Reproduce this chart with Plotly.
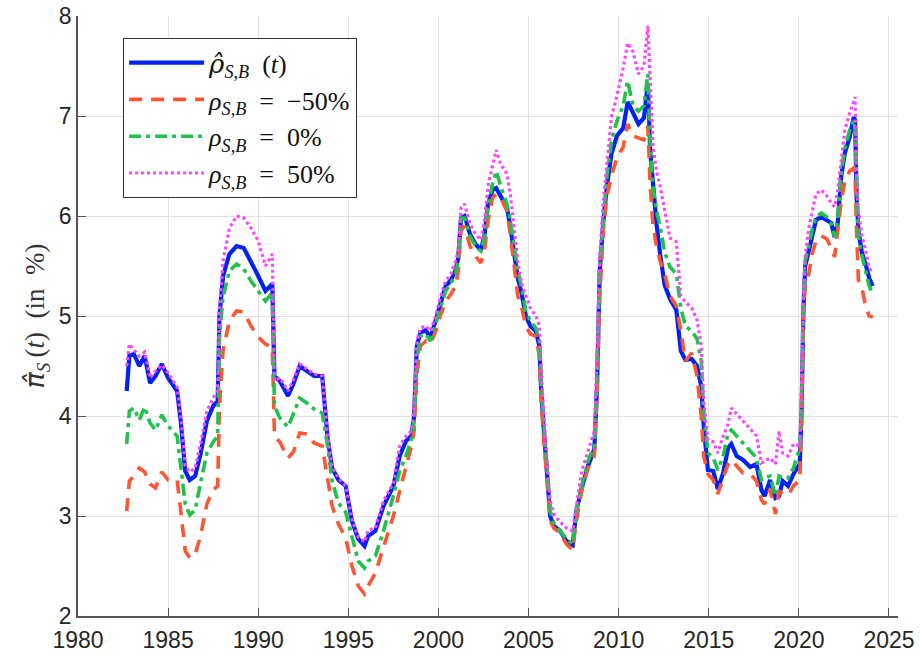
import plotly.graph_objects as go

years = [
    1982.70, 1982.85, 1983.10, 1983.40, 1983.70, 1984.00, 1984.30, 1984.65, 1985.00, 1985.50,
    1985.70, 1985.95, 1986.20, 1986.50, 1986.80, 1987.15, 1987.50, 1987.75, 1987.85, 1988.05,
    1988.40, 1988.80, 1989.20, 1989.60, 1990.00, 1990.40, 1990.78, 1990.90, 1991.20, 1991.65,
    1991.95, 1992.30, 1992.70, 1993.10, 1993.55, 1993.85, 1994.10, 1994.45, 1994.85, 1995.20,
    1995.55, 1995.90, 1996.10, 1996.50, 1996.95, 1997.50, 1997.85, 1998.20, 1998.50, 1998.65,
    1998.80, 1999.00, 1999.30, 1999.55, 1999.85, 2000.10, 2000.40, 2000.70, 2000.95, 2001.10,
    2001.25, 2001.45, 2001.75, 2002.05, 2002.35, 2002.55, 2002.75, 2003.00, 2003.20, 2003.45,
    2003.80, 2004.00, 2004.20, 2004.40, 2004.60, 2004.85, 2005.10, 2005.40, 2005.60, 2005.70,
    2005.85, 2006.00, 2006.20, 2006.40, 2006.75, 2007.10, 2007.45, 2007.65, 2007.95, 2008.30,
    2008.65, 2008.80, 2008.95, 2009.15, 2009.35, 2009.60, 2009.90, 2010.25, 2010.50, 2010.80,
    2011.10, 2011.40, 2011.62, 2011.75, 2011.90, 2012.10, 2012.30, 2012.55, 2012.85, 2013.20,
    2013.45, 2013.70, 2014.05, 2014.35, 2014.58, 2014.72, 2014.95, 2015.25, 2015.50, 2015.80,
    2016.07, 2016.25, 2016.55, 2016.90, 2017.30, 2017.65, 2017.92, 2018.10, 2018.40, 2018.70,
    2018.90, 2019.10, 2019.40, 2019.70, 2020.05, 2020.15, 2020.25, 2020.35, 2020.55, 2020.75,
    2020.95, 2021.25, 2021.55, 2021.80, 2021.98, 2022.15, 2022.35, 2022.55, 2022.82, 2023.05,
    2023.12, 2023.20, 2023.30, 2023.50, 2023.70, 2023.90, 2024.10,
]

rho_hat = [
    4.25, 4.60, 4.62, 4.50, 4.60, 4.33, 4.40, 4.52, 4.38, 4.25,
    3.95, 3.45, 3.36, 3.40, 3.62, 3.95, 4.10, 4.15, 5.00, 5.40,
    5.62, 5.70, 5.68, 5.55, 5.40, 5.25, 5.32, 4.40, 4.35, 4.20,
    4.32, 4.50, 4.45, 4.40, 4.40, 3.78, 3.48, 3.36, 3.30, 2.95,
    2.77, 2.70, 2.80, 2.85, 3.10, 3.30, 3.60, 3.75, 3.80, 4.00,
    4.70, 4.83, 4.86, 4.78, 4.96, 5.12, 5.30, 5.36, 5.46, 5.58,
    5.98, 6.00, 5.82, 5.72, 5.66, 5.80, 6.12, 6.26, 6.28, 6.20,
    6.08, 5.88, 5.62, 5.38, 5.24, 5.00, 4.90, 4.85, 4.70, 4.25,
    3.85, 3.45, 3.00, 2.90, 2.85, 2.75, 2.71, 3.05, 3.28, 3.50,
    3.67, 4.30, 5.45, 5.95, 6.30, 6.62, 6.80, 6.88, 7.14, 7.03,
    6.92, 6.98, 7.33, 6.65, 6.28, 5.92, 5.62, 5.31, 5.17, 5.06,
    4.65, 4.56, 4.57, 4.50, 4.30, 3.90, 3.46, 3.45, 3.27, 3.43,
    3.68, 3.72, 3.60, 3.56, 3.49, 3.52, 3.26, 3.20, 3.36, 3.18,
    3.20, 3.35, 3.30, 3.42, 3.52, 4.05, 5.05, 5.50, 5.65, 5.82,
    5.96, 5.99, 5.96, 5.93, 5.79, 5.92, 6.40, 6.63, 6.79, 6.99,
    6.96, 6.20, 5.86, 5.63, 5.52, 5.38, 5.30,
]

rho_m50 = [
    3.05, 3.35, 3.40, 3.48, 3.44, 3.32, 3.28, 3.44, 3.36, 3.36,
    3.05, 2.65, 2.58, 2.62, 2.80, 3.12, 3.26, 3.30, 4.10, 4.66,
    4.95, 5.05, 5.04, 4.90, 4.79, 4.72, 4.69, 3.80, 3.74, 3.58,
    3.64, 3.83, 3.82, 3.73, 3.70, 3.40, 3.10, 2.92, 2.78, 2.50,
    2.30, 2.22, 2.30, 2.43, 2.70, 3.00, 3.25, 3.50, 3.70, 3.85,
    4.40, 4.70, 4.75, 4.72, 4.85, 5.00, 5.15, 5.22, 5.30, 5.45,
    5.85, 5.90, 5.70, 5.60, 5.53, 5.65, 5.95, 6.18, 6.22, 6.18,
    6.05, 5.80, 5.50, 5.20, 5.10, 4.90, 4.82, 4.80, 4.60, 4.15,
    3.75, 3.40, 2.95, 2.88, 2.83, 2.72, 2.66, 2.95, 3.25, 3.48,
    3.60, 4.20, 5.20, 5.85, 6.20, 6.40, 6.58, 6.69, 6.92, 6.80,
    6.78, 6.76, 6.90, 6.30, 5.92, 5.70, 5.55, 5.42, 5.20, 5.10,
    4.85, 4.55, 4.63, 4.40, 4.00, 3.60, 3.42, 3.36, 3.22, 3.38,
    3.52, 3.56, 3.50, 3.43, 3.42, 3.35, 3.16, 3.12, 3.27, 3.02,
    3.25, 3.22, 3.21, 3.30, 3.36, 4.00, 5.00, 5.30, 5.42, 5.63,
    5.75, 5.80, 5.77, 5.68, 5.59, 5.85, 6.15, 6.35, 6.45, 6.48,
    6.40, 5.86, 5.36, 5.28, 5.10, 5.00, 4.99,
]

rho_0 = [
    3.72, 4.05, 4.08, 3.96, 4.09, 3.93, 3.86, 4.01, 3.90, 3.80,
    3.50, 3.12, 3.01, 3.06, 3.33, 3.63, 3.74, 3.80, 4.80, 5.19,
    5.45, 5.52, 5.47, 5.35, 5.25, 5.15, 5.23, 4.10, 3.98, 3.89,
    4.02, 4.18, 4.13, 4.07, 4.03, 3.70, 3.35, 3.13, 3.04, 2.80,
    2.55, 2.48, 2.55, 2.60, 2.85, 3.20, 3.45, 3.60, 3.77, 3.95,
    4.55, 4.80, 4.82, 4.75, 4.93, 5.10, 5.25, 5.33, 5.42, 5.55,
    5.98, 5.98, 5.80, 5.70, 5.65, 5.78, 6.10, 6.32, 6.45, 6.30,
    6.12, 5.95, 5.70, 5.45, 5.30, 5.05, 4.95, 4.88, 4.75, 4.30,
    3.90, 3.50, 3.05, 2.93, 2.85, 2.77, 2.72, 3.05, 3.30, 3.55,
    3.70, 4.40, 5.50, 6.00, 6.40, 6.75, 6.95, 7.10, 7.35, 7.10,
    7.05, 7.10, 7.42, 6.70, 6.30, 6.05, 5.90, 5.64, 5.49, 5.42,
    5.08, 4.90, 4.85, 4.77, 4.55, 4.05, 3.63, 3.58, 3.46, 3.60,
    3.83, 3.86, 3.80, 3.74, 3.66, 3.58, 3.36, 3.38, 3.40, 3.20,
    3.40, 3.38, 3.38, 3.48, 3.68, 4.10, 5.10, 5.55, 5.70, 5.88,
    5.99, 6.03, 5.99, 5.92, 5.79, 5.96, 6.43, 6.68, 6.86, 6.96,
    6.85, 6.30, 5.80, 5.60, 5.45, 5.30, 5.22,
]

rho_p50 = [
    4.50, 4.72, 4.66, 4.60, 4.64, 4.38, 4.45, 4.51, 4.43, 4.29,
    4.00, 3.50, 3.44, 3.48, 3.72, 4.05, 4.18, 4.25, 5.05, 5.55,
    5.88, 6.00, 5.98, 5.88, 5.75, 5.50, 5.62, 4.35, 4.38, 4.25,
    4.36, 4.52, 4.47, 4.42, 4.40, 3.80, 3.50, 3.38, 3.30, 2.97,
    2.79, 2.74, 2.86, 2.88, 3.15, 3.33, 3.70, 3.80, 3.85, 4.10,
    4.75, 4.88, 4.90, 4.85, 5.00, 5.18, 5.35, 5.42, 5.55, 5.65,
    6.08, 6.12, 5.92, 5.82, 5.76, 5.95, 6.30, 6.50, 6.66, 6.52,
    6.42, 6.20, 5.90, 5.55, 5.33, 5.20, 5.08, 5.00, 4.90, 4.45,
    4.00, 3.60, 3.15, 3.02, 2.94, 2.88, 2.85, 3.10, 3.45, 3.65,
    3.85, 4.60, 5.60, 6.15, 6.55, 6.99, 7.20, 7.48, 7.73, 7.64,
    7.42, 7.50, 7.90, 7.30, 6.72, 6.45, 6.30, 6.06, 5.78, 5.74,
    5.20, 5.14, 5.08, 4.96, 4.70, 4.15, 3.76, 3.74, 3.63, 3.80,
    3.92, 4.08, 4.02, 3.95, 3.88, 3.80, 3.53, 3.55, 3.58, 3.52,
    3.85, 3.63, 3.60, 3.72, 3.70, 4.36, 5.20, 5.60, 5.88, 6.05,
    6.22, 6.26, 6.20, 6.13, 6.09, 6.25, 6.56, 6.86, 7.03, 7.15,
    7.19, 6.36, 6.05, 5.80, 5.66, 5.48, 5.43,
]

x_ticks = [1980, 1985, 1990, 1995, 2000, 2005, 2010, 2015, 2020, 2025]
y_ticks = [2, 3, 4, 5, 6, 7, 8]

HAT = "<span style='font-family:DejaVu Serif'><i>ρ̂</i></span>"
RHO = "<i>ρ</i>"
SUB = "<sub><i>S,B</i></sub>"
SP = "\u2002"

series = [
    (HAT + SUB + "\u2002(<i>t</i>)", rho_hat, "#0022f5", 4.2, "solid"),
    (RHO + SUB + SP + "=" + SP + "−50%", rho_m50, "#ff5533", 3.6, "13px,9px"),
    (RHO + SUB + SP + "=" + SP + "0%", rho_0, "#1ec24c", 3.6, "12px,5px,4px,5px"),
    (RHO + SUB + SP + "=" + SP + "50%", rho_p50, "#ff44ff", 3.2, "3px,3px"),
]

fig = go.Figure()
for name, vals, color, width, dash in series:
    fig.add_trace(go.Scatter(
        x=years, y=vals, mode="lines", name=name,
        line=dict(color=color, width=width, dash=dash),
    ))

tick_font = dict(family="Liberation Sans, Arial, sans-serif", size=23, color="#262626")

fig.update_layout(
    width=920, height=656,
    margin=dict(l=78, r=22, t=16, b=40, autoexpand=False),
    paper_bgcolor="white", plot_bgcolor="white",
    showlegend=True,
    legend=dict(
        x=0.055, y=0.963, xanchor="left", yanchor="top",
        bgcolor="white", bordercolor="#333333", borderwidth=1,
        font=dict(family="Liberation Serif, DejaVu Serif, serif", size=26, color="#111111"),
        itemwidth=75, tracegroupgap=0,
    ),
    xaxis=dict(
        range=[1980, 2025.5], tickvals=x_ticks, ticktext=[str(v) for v in x_ticks],
        showgrid=True, gridcolor="#e3e3e3", gridwidth=1,
        showline=True, linecolor="#555555", linewidth=1.5,
        ticks="inside", ticklen=8, tickcolor="#555555",
        tickfont=tick_font, zeroline=False, automargin=False,
        ticklabelstandoff=3,
    ),
    yaxis=dict(
        range=[2, 8], tickvals=y_ticks, ticktext=[str(v) for v in y_ticks],
        showgrid=True, gridcolor="#e3e3e3", gridwidth=1,
        showline=True, linecolor="#555555", linewidth=1.5,
        ticks="inside", ticklen=8, tickcolor="#555555",
        tickfont=tick_font, zeroline=False, automargin=False,
        title=dict(
            text="<span style='font-family:DejaVu Sans'><i>π̂</i></span><sub><i>S</i></sub>\u2009(<i>t</i>)\u2002(in\u2002%)",
            font=dict(family="Liberation Serif, DejaVu Serif, serif", size=27, color="#333333"),
            standoff=6,
        ),
    ),
)

fig.write_html("out.html")
